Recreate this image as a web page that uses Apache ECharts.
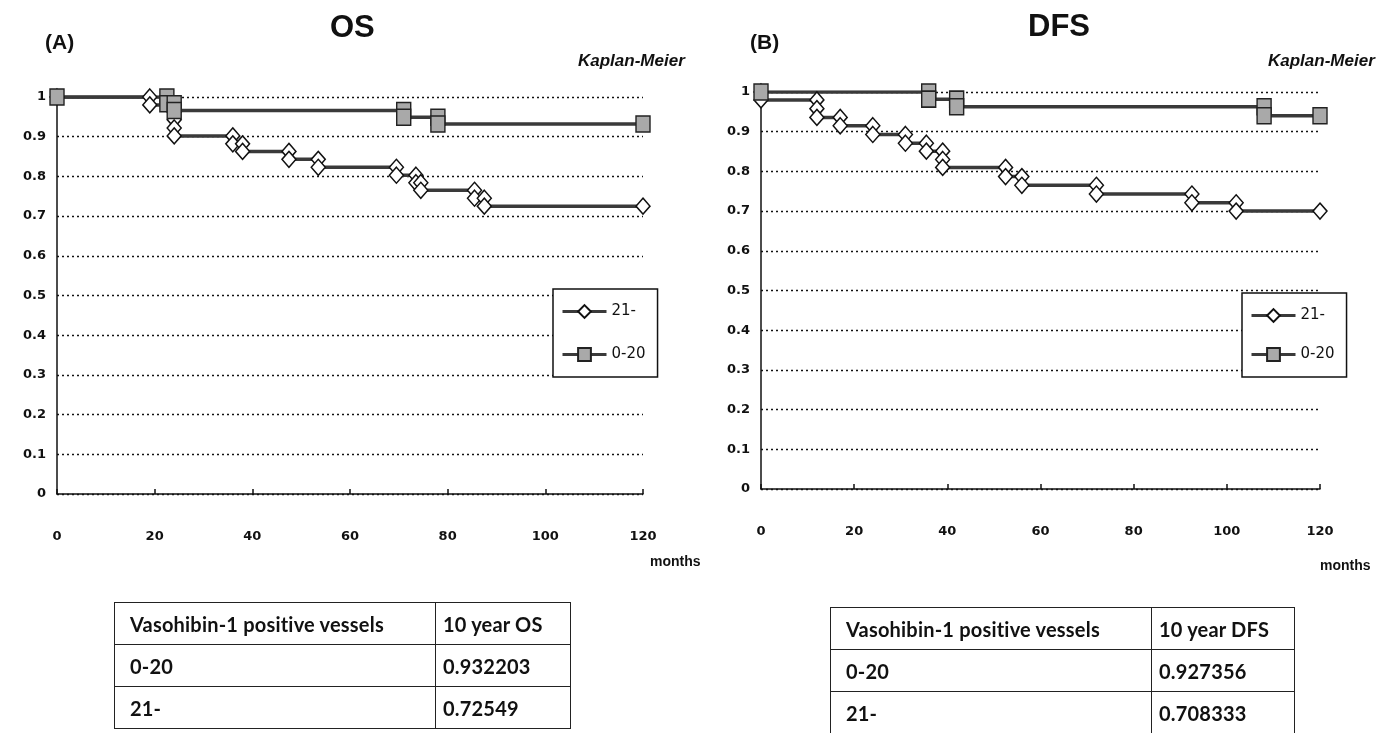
<!DOCTYPE html>
<html>
<head>
<meta charset="utf-8">
<script src="https://cdn.jsdelivr.net/npm/echarts@6/dist/echarts.min.js"></script>
<style>
    body { margin: 0; background: #fff; }
    #main { position: absolute; left: 0; top: 0; width: 1379px; height: 733px; }
    table.tb { position: absolute; border-collapse: collapse; table-layout: fixed; font-family: Lato, "Open Sans", sans-serif; font-weight: bold; font-size: 20px; letter-spacing: 0.2px; color: #111; }
    table.tb td { border: 1.5px solid #222; padding: 0 0 0 15px; height: 41px; white-space: nowrap; }
    table.tb td.v { padding-left: 7px; }
</style>
</head>
<body>
<div id="main"></div>
<table class="tb" id="tabOS" style="left:114px;top:602px;width:457px;"></table>
<table class="tb" id="tabDFS" style="left:830px;top:607px;width:465px;"></table>
<script>
// OS: 0-20 positive vessels (squares) / 21- (diamonds)
const osLowT = [0, 22.5, 22.5, 24, 24, 71, 71, 78, 78, 120];
const osLowS = [1, 1, 0.983, 0.983, 0.966, 0.966, 0.949, 0.949, 0.932, 0.932];
const osHighT = [0, 19, 19, 24, 24, 24, 24, 24, 36, 36, 38, 38, 47.5, 47.5, 53.5, 53.5, 69.5, 69.5, 73.5, 73.5, 74.5, 74.5, 85.5, 85.5, 87.5, 87.5, 120];
const osHighS = [1, 1, 0.98, 0.98, 0.962, 0.943, 0.922, 0.902, 0.902, 0.882, 0.882, 0.863, 0.863, 0.843, 0.843, 0.823, 0.823, 0.803, 0.803, 0.784, 0.784, 0.765, 0.765, 0.745, 0.745, 0.725, 0.725];

// DFS
const dfsLowT = [0, 36, 36, 42, 42, 108, 108, 120];
const dfsLowS = [1, 1, 0.982, 0.982, 0.963, 0.963, 0.94, 0.94];
const dfsHighT = [0, 0, 12, 12, 12, 17, 17, 24, 24, 31, 31, 35.5, 35.5, 39, 39, 39, 52.5, 52.5, 56, 56, 72, 72, 92.5, 92.5, 102, 102, 120];
const dfsHighS = [1, 0.98, 0.98, 0.958, 0.936, 0.936, 0.915, 0.915, 0.893, 0.893, 0.871, 0.871, 0.851, 0.851, 0.83, 0.81, 0.81, 0.787, 0.787, 0.765, 0.765, 0.743, 0.743, 0.721, 0.721, 0.70, 0.70];

const groups = ["21-", "0-20"];
const tableHead = ["Vasohibin-1 positive vessels", "10 year OS", "10 year DFS"];
const osTable = [["0-20", "0.932203"], ["21-", "0.72549"]];
const dfsTable = [["0-20", "0.927356"], ["21-", "0.708333"]];

function pts(t, s) {
    return t.map((v, i) => [v, s[i]]);
}

const lineColor = "#3a3a3a";
const axisFont = { fontFamily: "DejaVu Sans", fontWeight: "bold", fontSize: 13, color: "#111" };

function xAx(idx) {
    return {
        type: "value", gridIndex: idx, min: 0, max: 120, interval: 20,
        axisLine: { lineStyle: { color: "#111", width: 1.5 } },
        axisTick: { inside: true, length: 5, lineStyle: { color: "#111", width: 1.5 } },
        axisLabel: Object.assign({ margin: 36 }, axisFont),
        splitLine: { show: false }
    };
}
function yAx(idx) {
    return {
        type: "value", gridIndex: idx, min: 0, max: 1, interval: 0.1,
        axisLine: { show: true, lineStyle: { color: "#111", width: 1.5 } },
        axisTick: { show: false },
        axisLabel: Object.assign({ margin: 11, formatter: v => String(+v.toFixed(1)) }, axisFont),
        splitLine: { lineStyle: { type: [2, 3], color: "#111", width: 1.3 } }
    };
}
function diamond(idx, data) {
    return {
        name: groups[0], type: "line", xAxisIndex: idx, yAxisIndex: idx, data: data,
        symbol: "diamond", symbolSize: [14, 16], showAllSymbol: true,
        lineStyle: { color: lineColor, width: 3.5 },
        itemStyle: { color: "#fff", borderColor: "#111", borderWidth: 1.5 }
    };
}
function square(idx, data) {
    return {
        name: groups[1], type: "line", xAxisIndex: idx, yAxisIndex: idx, data: data,
        symbol: "rect", symbolSize: [14, 16], showAllSymbol: true,
        lineStyle: { color: lineColor, width: 3.5 },
        itemStyle: { color: "#a9a9a9", borderColor: "#222", borderWidth: 1.5 }
    };
}
function legend(left, top, gap) {
    return {
        data: groups, orient: "vertical", left: left, top: top,
        padding: [15, 12, 15, 8], itemGap: gap, itemWidth: 44, itemHeight: 16,
        lineStyle: { width: 3 },
        borderColor: "#111", borderWidth: 1.5, backgroundColor: "#fff",
        textStyle: { fontFamily: "DejaVu Sans", fontSize: 15, color: "#111" }
    };
}
function txt(x, y, s, size, style) {
    return {
        type: "text", left: x, top: y,
        style: { text: s, font: (style || "bold") + " " + size + "px 'Liberation Sans'", fill: "#111" }
    };
}

var myChart = echarts.init(document.getElementById("main"));
var option = {
    animation: false,
    grid: [
        { left: 57, top: 97, width: 586, height: 397 },
        { left: 761, top: 92, width: 559, height: 397 }
    ],
    xAxis: [xAx(0), xAx(1)],
    yAxis: [yAx(0), yAx(1)],
    legend: [legend(553, 289, 28), legend(1242, 293, 24)],
    series: [
        diamond(0, pts(osHighT, osHighS)),
        square(0, pts(osLowT, osLowS)),
        diamond(1, pts(dfsHighT, dfsHighS)),
        square(1, pts(dfsLowT, dfsLowS))
    ],
    graphic: [
        txt(45, 33, "(A)", 21),
        txt(330, 13, "OS", 31),
        txt(578, 53, "Kaplan-Meier", 17, "italic bold"),
        txt(750, 33, "(B)", 21),
        txt(1028, 12, "DFS", 31),
        txt(1268, 53, "Kaplan-Meier", 17, "italic bold"),
        txt(650, 555, "months", 14),
        txt(1320, 559, "months", 14)
    ]
};
myChart.setOption(option);

// tables under the charts
function fillTable(id, head, rows) {
    let str = `<tr><td style="width:305px">${tableHead[0]}</td><td class="v">${head}</td></tr>`;
    for (let r of rows) {
        str += `<tr><td>${r[0]}</td><td class="v">${r[1]}</td></tr>`;
    }
    document.getElementById(id).innerHTML = str;
}
fillTable("tabOS", tableHead[1], osTable);
fillTable("tabDFS", tableHead[2], dfsTable);
</script>
</body>
</html>
